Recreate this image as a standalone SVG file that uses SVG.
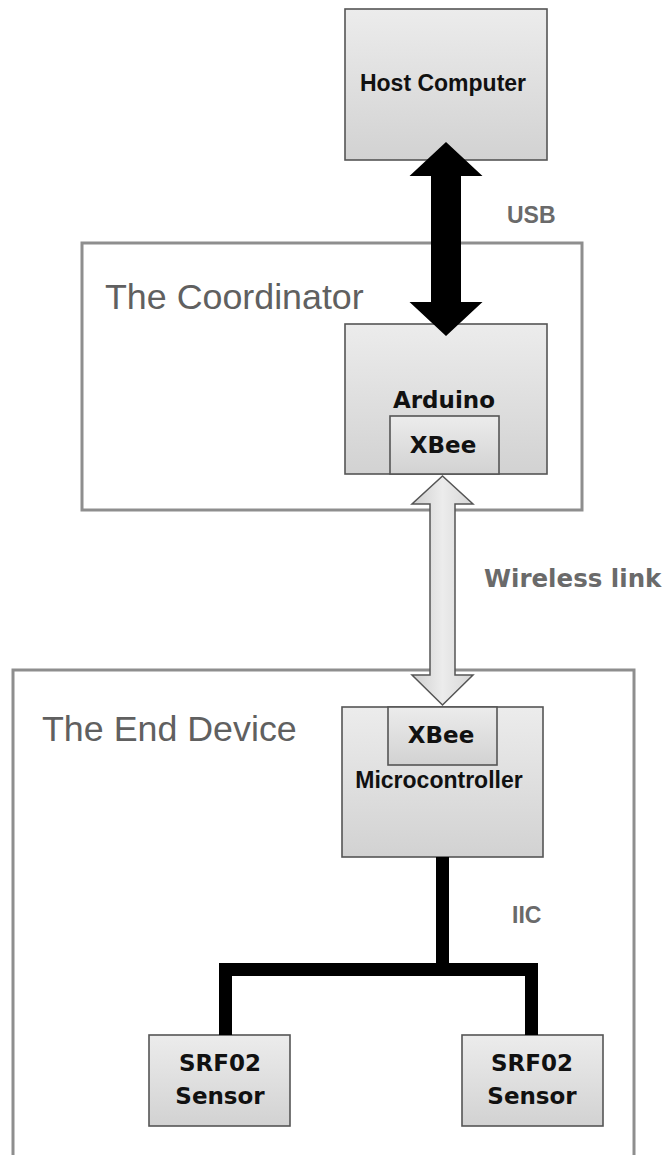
<svg xmlns="http://www.w3.org/2000/svg" width="666" height="1155" viewBox="0 0 666 1155">
<defs>
<linearGradient id="boxg" x1="0" y1="0" x2="0" y2="1">
<stop offset="0" stop-color="#ececec"/>
<stop offset="1" stop-color="#d2d2d2"/>
</linearGradient>
<linearGradient id="arrg" x1="0" y1="0" x2="1" y2="0">
<stop offset="0" stop-color="#cfcfcf"/>
<stop offset="0.5" stop-color="#ececec"/>
<stop offset="1" stop-color="#d6d6d6"/>
</linearGradient>
</defs>
<style>
.box{fill:url(#boxg);stroke:#555;stroke-width:1.6}
.cont{fill:none;stroke:#8e8e8e;stroke-width:3}
.ctitle{font-family:"Liberation Sans",Arial,sans-serif;font-size:35.8px;fill:#606060}
.narrow{font-family:"Liberation Sans",Arial,sans-serif;font-weight:bold;font-size:23px;fill:#111;text-anchor:middle}
.wide{font-family:"DejaVu Sans",Verdana,sans-serif;font-weight:bold;font-size:23px;fill:#111;text-anchor:middle}
.lbl{font-family:"Liberation Sans",Arial,sans-serif;font-weight:bold;font-size:23px;fill:#6a6a6a}
.lblw{font-family:"DejaVu Sans",Verdana,sans-serif;font-weight:bold;font-size:24.5px;fill:#6a6a6a}
</style>
<rect width="666" height="1155" fill="#fff"/>

<g id="coordinator">
<rect class="cont" x="82" y="243" width="500" height="267"/>
<text class="ctitle" x="105" y="309">The Coordinator</text>
</g>
<g id="end-device">
<rect class="cont" x="13" y="670" width="621" height="520"/>
<text class="ctitle" x="42" y="741">The End Device</text>
</g>

<g id="host">
<rect class="box" x="345" y="9" width="202" height="151"/>
<text class="narrow" x="443" y="91">Host Computer</text>
</g>

<g id="arduino">
<rect class="box" x="345" y="324" width="202" height="150"/>
<text class="wide" x="444" y="408" font-size="24">Arduino</text>
</g>
<g id="xbee-coord">
<rect class="box" x="390" y="416" width="109" height="58"/>
<text class="wide" x="443" y="453">XBee</text>
</g>

<g id="microcontroller">
<rect class="box" x="342" y="707" width="201" height="150"/>
<text class="narrow" x="439" y="788" font-size="24">Microcontroller</text>
</g>
<g id="xbee-end">
<rect class="box" x="388" y="707" width="109" height="58"/>
<text class="wide" x="441" y="743">XBee</text>
</g>

<g id="sensor1">
<rect class="box" x="149" y="1035" width="141" height="91"/>
<text class="wide" x="220" y="1071">SRF02</text>
<text class="wide" x="220" y="1104">Sensor</text>
</g>
<g id="sensor2">
<rect class="box" x="462" y="1035" width="141" height="91"/>
<text class="wide" x="532" y="1071">SRF02</text>
<text class="wide" x="532" y="1104">Sensor</text>
</g>

<g id="connectors">
<path d="M446,142 L482.5,176 L461,176 L461,302 L482.5,302 L446,336 L409.5,302 L431,302 L431,176 L409.5,176 Z" fill="#000"/>
<text class="lbl" x="507" y="223">USB</text>
<path d="M442.5,476 L473,504 L455,504 L455,675 L473,675 L442.5,705 L412,675 L430,675 L430,504 L412,504 Z" fill="url(#arrg)" stroke="#555" stroke-width="1.5" stroke-linejoin="miter"/>
<text class="lblw" x="484" y="587">Wireless link</text>
<path d="M442.5,857 V969.5" fill="none" stroke="#000" stroke-width="13"/>
<path d="M225.5,1035 V969.5 H531.5 V1035" fill="none" stroke="#000" stroke-width="13" stroke-linejoin="miter"/>
<text class="lbl" x="512" y="923" font-size="24">IIC</text>
</g>
</svg>
